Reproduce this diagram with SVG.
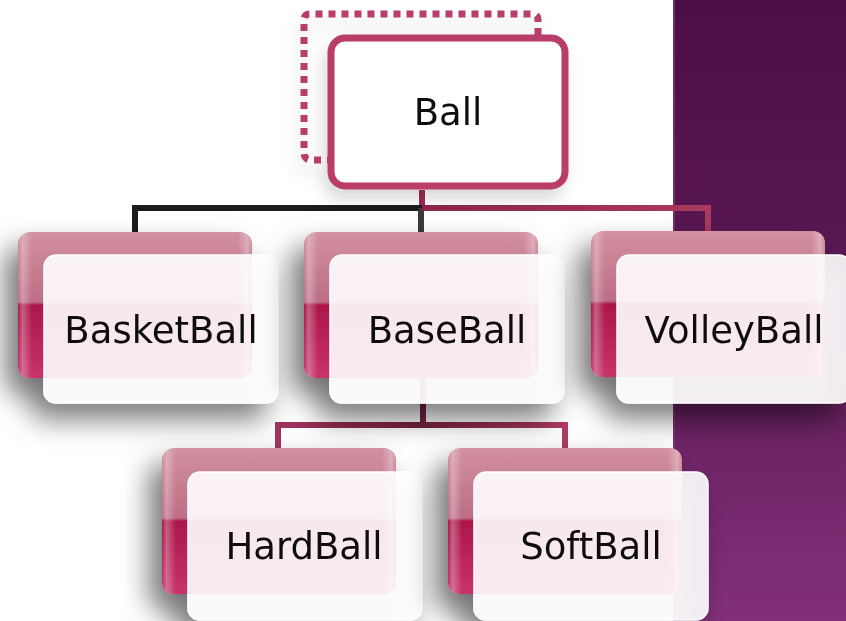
<svg xmlns="http://www.w3.org/2000/svg" width="846" height="621" viewBox="0 0 846 621">
  <defs>
    <linearGradient id="panel" x1="0" y1="0" x2="0" y2="1">
      <stop offset="0" stop-color="#4b0e44"/>
      <stop offset="0.5" stop-color="#5e1a57"/>
      <stop offset="1" stop-color="#823079"/>
    </linearGradient>
    <linearGradient id="gloss" x1="0" y1="0" x2="0" y2="1">
      <stop offset="0" stop-color="#d290a1"/>
      <stop offset="0.48" stop-color="#bc6d85"/>
      <stop offset="0.5" stop-color="#ab174b"/>
      <stop offset="1" stop-color="#c7336a"/>
    </linearGradient>
    <linearGradient id="edgeShine" x1="0" y1="0" x2="1" y2="0">
      <stop offset="0" stop-color="#ffffff" stop-opacity="0"/>
      <stop offset="0.02" stop-color="#ffffff" stop-opacity="0.3"/>
      <stop offset="0.06" stop-color="#ffffff" stop-opacity="0"/>
      <stop offset="0.94" stop-color="#ffffff" stop-opacity="0"/>
      <stop offset="0.98" stop-color="#ffffff" stop-opacity="0.3"/>
      <stop offset="1" stop-color="#ffffff" stop-opacity="0"/>
    </linearGradient>
    <linearGradient id="wireRight" x1="0" y1="0" x2="1" y2="0">
      <stop offset="0" stop-color="#8e2550"/>
      <stop offset="1" stop-color="#a83a5c"/>
    </linearGradient>
    <linearGradient id="wireLow" x1="0" y1="0" x2="1" y2="0">
      <stop offset="0" stop-color="#a33461"/>
      <stop offset="0.5" stop-color="#76213f"/>
      <stop offset="1" stop-color="#b03a64"/>
    </linearGradient>
    <filter id="shade" x="-40%" y="-40%" width="180%" height="190%">
      <feGaussianBlur in="SourceAlpha" stdDeviation="14"/>
      <feOffset dx="-12" dy="16" result="b"/>
      <feFlood flood-color="#000000" flood-opacity="0.55"/>
      <feComposite in2="b" operator="in"/>
      <feMerge>
        <feMergeNode/>
        <feMergeNode in="SourceGraphic"/>
      </feMerge>
    </filter>
    <filter id="softShade" x="-30%" y="-30%" width="160%" height="170%">
      <feGaussianBlur in="SourceAlpha" stdDeviation="8"/>
      <feOffset dx="-4" dy="10" result="b"/>
      <feFlood flood-color="#000000" flood-opacity="0.15"/>
      <feComposite in2="b" operator="in"/>
      <feMerge>
        <feMergeNode/>
        <feMergeNode in="SourceGraphic"/>
      </feMerge>
    </filter>
  </defs>
  <style>
    .back { fill: url(#gloss); }
    .shine { fill: url(#edgeShine); }
    .front { fill: #ffffff; fill-opacity: 0.9; stroke: #ffffff; stroke-width: 1.5; }
    .label { font-family: "DejaVu Sans", "Liberation Sans", sans-serif; font-size: 37px; fill: #111111; text-anchor: middle; }
    .wire { fill: none; stroke-width: 6; stroke-linejoin: miter; }
  </style>

  <!-- page background and side panel -->
  <rect x="0" y="0" width="846" height="621" fill="#ffffff"/>
  <rect x="673" y="0" width="173" height="621" fill="url(#panel)"/>
  <line x1="674" y1="0" x2="674" y2="621" stroke="#7a3a72" stroke-width="1.5"/>

  <!-- connectors -->
  <g id="connectors">
    <path class="wire" d="M422,190 V208" stroke="#9a2c55"/>
    <path class="wire" d="M422,208 H135 V233" stroke="#1c1c1c"/>
    <path class="wire" d="M421,208 V233" stroke="#3a3a3a"/>
    <path class="wire" d="M422,208 H708 V233" stroke="url(#wireRight)"/>
    <path class="wire" d="M423,378 V425" stroke="#7a2346"/>
    <path class="wire" d="M278,449 V425 H565 V449" stroke="url(#wireLow)"/>
  </g>

  <!-- root node with its dotted loop -->
  <g id="node-ball" filter="url(#softShade)">
    <path d="M538,35 V20 Q538,14 532,14 H310 Q304,14 304,20 V153 Q304,159 310,160 H328" fill="none" stroke="#b83d69" stroke-width="7" stroke-dasharray="7 6"/>
    <rect x="331" y="38" width="234" height="148" rx="14" fill="#ffffff" stroke="#b83d69" stroke-width="7"/>
    <text class="label" x="448" y="125">Ball</text>
  </g>

  <g id="node-basketball" filter="url(#shade)">
    <rect class="back" x="18" y="232" width="234" height="146" rx="12"/>
    <rect class="shine" x="18" y="232" width="234" height="146" rx="12"/>
    <rect class="front" x="44" y="255" width="234" height="148" rx="12"/>
    <text class="label" x="161" y="343">BasketBall</text>
  </g>

  <g id="node-baseball" filter="url(#shade)">
    <rect class="back" x="304" y="232" width="234" height="146" rx="12"/>
    <rect class="shine" x="304" y="232" width="234" height="146" rx="12"/>
    <rect class="front" x="330" y="255" width="234" height="148" rx="12"/>
    <text class="label" x="447" y="343">BaseBall</text>
  </g>

  <g id="node-volleyball" filter="url(#shade)">
    <rect class="back" x="591" y="231" width="234" height="146" rx="12"/>
    <rect class="shine" x="591" y="231" width="234" height="146" rx="12"/>
    <rect class="front" x="617" y="255" width="234" height="148" rx="12"/>
    <text class="label" x="734" y="343">VolleyBall</text>
  </g>

  <g id="node-hardball" filter="url(#shade)">
    <rect class="back" x="162" y="448" width="234" height="146" rx="12"/>
    <rect class="shine" x="162" y="448" width="234" height="146" rx="12"/>
    <rect class="front" x="188" y="472" width="234" height="148" rx="12"/>
    <text class="label" x="304" y="559">HardBall</text>
  </g>

  <g id="node-softball" filter="url(#shade)">
    <rect class="back" x="448" y="448" width="234" height="146" rx="12"/>
    <rect class="shine" x="448" y="448" width="234" height="146" rx="12"/>
    <rect class="front" x="474" y="472" width="234" height="148" rx="12"/>
    <text class="label" x="591" y="559">SoftBall</text>
  </g>
</svg>
